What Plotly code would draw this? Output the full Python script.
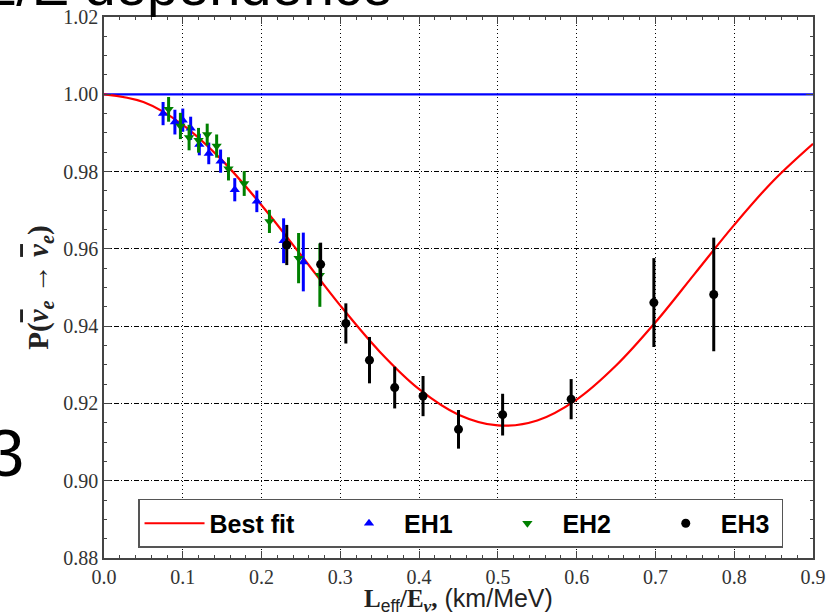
import plotly.graph_objects as go

# ---------------- data ----------------
fit_x = [0.00, 0.05, 0.10, 0.15, 0.20, 0.25, 0.30, 0.35, 0.40, 0.45,
         0.50, 0.55, 0.60, 0.65, 0.70, 0.75, 0.80, 0.85, 0.90]
fit_p = [1.0000, 0.9980, 0.9921, 0.9829, 0.9713, 0.9584, 0.9453, 0.9334, 0.9237, 0.9171,
         0.9143, 0.9156, 0.9210, 0.9298, 0.9410, 0.9536, 0.9662, 0.9777, 0.9872]

noosc_x = [0.0, 0.9]
noosc_p = [1.0, 1.0]

eh1_x = [0.075, 0.090, 0.100, 0.110, 0.121, 0.133, 0.148, 0.166, 0.194, 0.228, 0.253]
eh1_p = [0.9950, 0.9928, 0.9933, 0.9912, 0.9870, 0.9847, 0.9827, 0.9753, 0.9723, 0.9621, 0.9566]
eh1_err = [0.0030, 0.0032, 0.0030, 0.0030, 0.0028, 0.0028, 0.0030, 0.0030, 0.0028, 0.0058, 0.0076]

eh2_x = [0.082, 0.097, 0.108, 0.120, 0.131, 0.143, 0.158, 0.178, 0.210, 0.247, 0.274]
eh2_p = [0.9961, 0.9918, 0.9888, 0.9881, 0.9896, 0.9866, 0.9807, 0.9769, 0.9671, 0.9576, 0.9532]
eh2_err = [0.0032, 0.0034, 0.0033, 0.0032, 0.0028, 0.0030, 0.0030, 0.0032, 0.0030, 0.0065, 0.0082]

eh3_x = [0.232, 0.275, 0.307, 0.337, 0.369, 0.405, 0.450, 0.506, 0.593, 0.698, 0.774]
eh3_p = [0.9610, 0.9560, 0.9407, 0.9312, 0.9241, 0.9219, 0.9133, 0.9171, 0.9211, 0.9461, 0.9482]
eh3_err = [0.0052, 0.0056, 0.0052, 0.0060, 0.0054, 0.0052, 0.0050, 0.0054, 0.0052, 0.0115, 0.0147]

x_ticks = [0.0, 0.1, 0.2, 0.3, 0.4, 0.5, 0.6, 0.7, 0.8, 0.9]
y_ticks = [0.88, 0.90, 0.92, 0.94, 0.96, 0.98, 1.00, 1.02]

series_names = ["Best fit", "EH1", "EH2", "EH3"]

# ---------------- figure ----------------
SERIF = "Liberation Serif, DejaVu Serif, serif"
SANS = "Liberation Sans, Arial, sans-serif"
NB = "\u00a0"

def legend_label(name, trail):
    return name + NB * trail

fig = go.Figure()

fig.add_trace(go.Scatter(x=noosc_x, y=noosc_p, mode="lines",
                         line=dict(color="#0000ff", width=2.2),
                         showlegend=False, hoverinfo="skip"))

fig.add_trace(go.Scatter(x=fit_x, y=fit_p, mode="lines",
                         name=legend_label(series_names[0], 5),
                         line=dict(color="#ff0000", width=2.2, shape="spline", smoothing=1.0)))

def data_trace(x, y, err, color, symbol, size, name):
    return go.Scatter(
        x=x, y=y, mode="markers", name=name,
        marker=dict(color=color, symbol=symbol, size=size, line=dict(width=0)),
        error_y=dict(type="data", array=err, visible=True, color=color,
                     thickness=3, width=0),
    )

fig.add_trace(data_trace(eh1_x, eh1_p, eh1_err, "#0000ff", "triangle-up", 9,
                         legend_label(series_names[1], 5)))
fig.add_trace(data_trace(eh2_x, eh2_p, eh2_err, "#008000", "triangle-down", 9,
                         legend_label(series_names[2], 5)))
fig.add_trace(data_trace(eh3_x, eh3_p, eh3_err, "#000000", "circle", 9,
                         legend_label(series_names[3], 1)))

axis_common = dict(
    showline=True, linecolor="#444444", linewidth=1.5, mirror="allticks",
    ticks="inside", ticklen=7, tickwidth=1, tickcolor="#444444",
    showgrid=True, gridcolor="#000000", gridwidth=1,
    zeroline=False,
    tickfont=dict(family=SERIF, size=20, color="#333333"),
)

NUBAR = '<span style="text-decoration:overline"><i>ν</i></span>'

fig.update_layout(
    width=828, height=616,
    margin=dict(l=104, r=15, t=17, b=58, autoexpand=False),
    paper_bgcolor="white", plot_bgcolor="white",
    xaxis=dict(
        range=[0, 0.9], tickvals=x_ticks, tickformat=".1f",
        griddash="1px,3px",
        minor=dict(dtick=0.02, tick0=0, ticks="inside", ticklen=3.5,
                   tickcolor="#444444", showgrid=False),
        title=dict(
            text='<span style="font-family:Liberation Serif;font-weight:bold">L</span>'
                 '<sub>eff</sub>'
                 '<span style="font-family:Liberation Serif;font-weight:bold">/E</span>'
                 '<sub><span style="font-family:Liberation Serif;font-weight:bold"><i>ν</i></span></sub>'
                 '<span style="font-family:Liberation Serif;font-weight:bold">,</span> (km/MeV)',
            font=dict(family=SANS, size=25, color="#222222"),
            standoff=9,
        ),
        **axis_common,
    ),
    yaxis=dict(
        range=[0.88, 1.02], tickvals=y_ticks, tickformat=".2f",
        griddash="5px,2px,1px,2px",
        minor=dict(dtick=0.005, tick0=0.88, ticks="inside", ticklen=3.5,
                   tickcolor="#444444", showgrid=False),
        title=dict(
            text="<b>P(" + NUBAR + "<sub><i>e</i></sub> → " + NUBAR + "<sub><i>e</i></sub>)</b>",
            font=dict(family=SERIF, size=29, color="#222222"),
            standoff=6,
        ),
        **axis_common,
    ),
    legend=dict(
        orientation="h",
        x=0.048, y=0.0185, xanchor="left", yanchor="bottom",
        bgcolor="white", bordercolor="#555555", borderwidth=1.5,
        font=dict(family=SANS, size=25, color="#000000", weight="bold"),
        itemwidth=60,
    ),
    annotations=[
        dict(text="L/E dependence", xref="paper", yref="paper",
             x=-0.171, y=0.9963, xanchor="left", yanchor="bottom",
             showarrow=False, font=dict(family=SANS, size=56, color="#000000")),
        dict(text="3", xref="paper", yref="paper",
             x=-0.110, y=0.122, xanchor="right", yanchor="bottom",
             showarrow=False, font=dict(family=SANS, size=67, color="#000000")),
    ],
)

fig.write_html("out.html")
